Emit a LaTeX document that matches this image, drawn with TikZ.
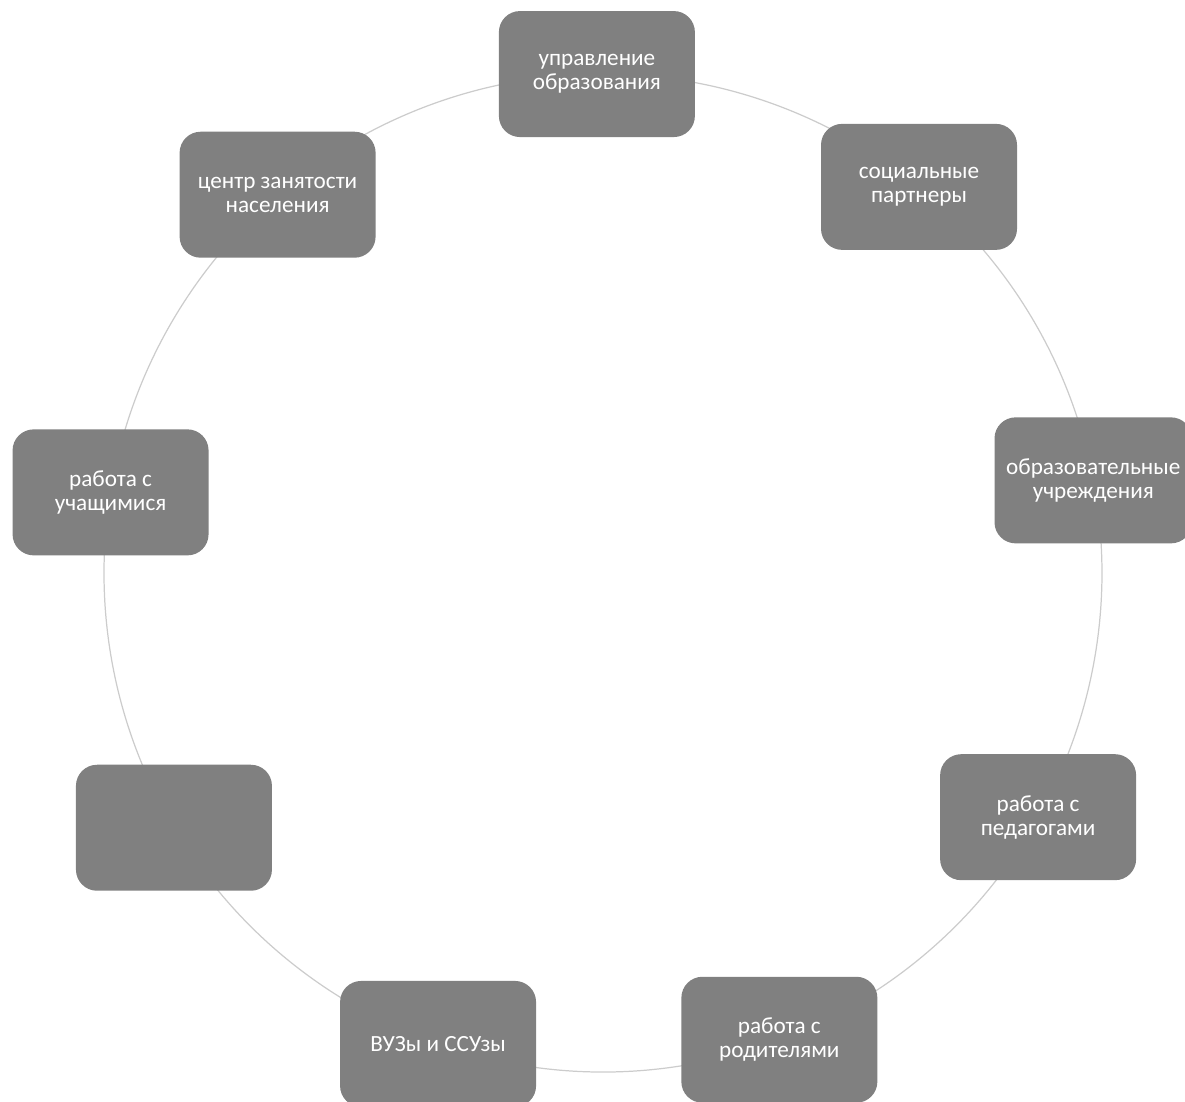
\documentclass[tikz,border=0pt]{standalone}
\usepackage{fontspec}
\setmainfont{Carlito}
\usetikzlibrary{backgrounds}
\definecolor{boxgray}{RGB}{128,128,128}

\begin{document}
\begin{tikzpicture}[part/.style={rectangle,rounded corners=6pt,fill=boxgray,text=white,
    minimum width=1.96cm,minimum height=1.26cm,align=center,
    font=\fontsize{6.6}{6.9}\selectfont},
  ring/.style={draw=gray!40,line width=0.35pt}]
    \useasboundingbox (-6.03,-5.29) rectangle (5.82,5.73);

    \node[part] (uo) at (90.7:4.99)   {управление\\образования};
    \node[part] (sp) at (50.7:4.99)   {социальные\\партнеры};
    \node[part] (ou) at (10.7:4.99)   {образовательные\\учреждения};
    \node[part] (rp) at (-29.3:4.99)  {работа с\\педагогами};
    \node[part] (rr) at (-69.3:4.99)  {работа с\\родителями};
    \node[part] (vs) at (-109.3:4.99) {ВУЗы и ССУзы};
    \node[part] (pu) at (-149.3:4.99) {};
    \node[part] (ru) at (170.7:4.99)  {работа с\\учащимися};
    \node[part] (cz) at (130.7:4.99)  {центр занятости\\населения};

    % ring behind the boxes
    \begin{scope}[on background layer]
    \path[ring] (uo.center) edge [bend left=20,looseness=0.88] (sp.center)
                (sp.center) edge [bend left=20,looseness=0.88] (ou.center)
                (ou.center) edge [bend left=20,looseness=0.88] (rp.center)
                (rp.center) edge [bend left=20,looseness=0.88] (rr.center)
                (rr.center) edge [bend left=20,looseness=0.88] (vs.center)
                (vs.center) edge [bend left=20,looseness=0.88] (pu.center)
                (pu.center) edge [bend left=20,looseness=0.88] (ru.center)
                (ru.center) edge [bend left=20,looseness=0.88] (cz.center)
                (cz.center) edge [bend left=20,looseness=0.88] (uo.center);
    \end{scope}

  \end{tikzpicture}
\end{document}
